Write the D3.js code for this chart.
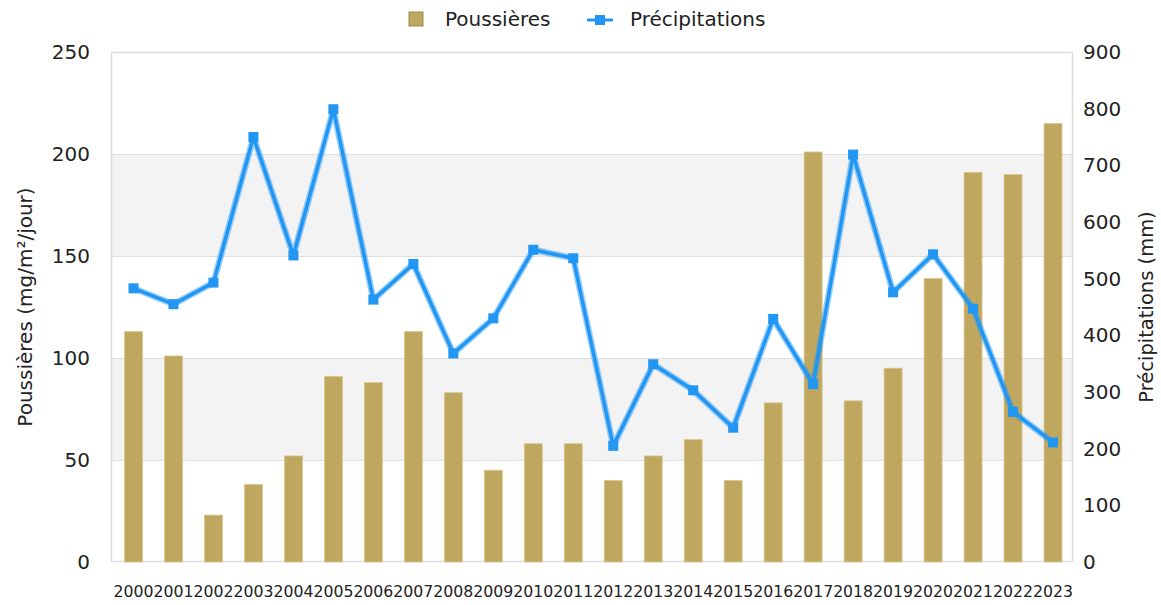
<!DOCTYPE html>
<html>
<head>
<meta charset="utf-8">
<script src="https://cdn.jsdelivr.net/npm/d3@7"></script>
<style>
  body { margin: 0; background: #fff; }
  svg text { font-family: "DejaVu Sans", sans-serif; fill: #222; }
</style>
</head>
<body>
<div id="chart"></div>
<script>
const years = ['2000','2001','2002','2003','2004','2005','2006','2007','2008','2009','2010','2011',
  '2012','2013','2014','2015','2016','2017','2018','2019','2020','2021','2022','2023'];
const dust = [113, 101, 23, 38, 52, 91, 88, 113, 83, 45, 58, 58,
  40, 52, 60, 40, 78, 201, 79, 95, 139, 191, 190, 215];
const rain = [483, 455, 493, 750, 541, 799, 463, 526, 368, 430, 551, 536,
  205, 349, 303, 237, 429, 314, 719, 476, 543, 447, 265, 211];
const leftTicks = [0, 50, 100, 150, 200, 250];
const rightTicks = [0, 100, 200, 300, 400, 500, 600, 700, 800, 900];

let width = 1161, height = 605;
let margin = { top: 52, right: 88, bottom: 43, left: 111 };

let barColor = '#bfa75f';
let lineColor = '#2196f3';

const svg = d3.select('#chart').append('svg')
  .attr('width', width)
  .attr('height', height);

let x = d3.scaleBand()
  .domain(years)
  .range([margin.left + 2.5, width - margin.right])
  .paddingInner(0.55)
  .paddingOuter(0.275);

let y = d3.scaleLinear().domain([0, 250]).range([height - margin.bottom, margin.top]);
let y2 = d3.scaleLinear().domain([0, 900]).range([height - margin.bottom, margin.top]);

// alternating bands
svg.append('g')
  .selectAll('rect')
  .data(d3.pairs(leftTicks))
  .join('rect')
  .attr('x', margin.left)
  .attr('width', width - margin.right - margin.left)
  .attr('y', d => y(d[1]))
  .attr('height', d => y(d[0]) - y(d[1]))
  .attr('fill', (d, i) => i % 2 ? '#f3f3f3' : '#fff');

// grid lines
svg.append('g')
  .selectAll('line')
  .data(leftTicks.slice(1, -1))
  .join('line')
  .attr('x1', margin.left)
  .attr('x2', width - margin.right)
  .attr('y1', d => y(d) + 0.5)
  .attr('y2', d => y(d) + 0.5)
  .attr('stroke', '#e0e0e0');

svg.append('rect')
  .attr('x', margin.left + 0.5)
  .attr('y', margin.top + 0.5)
  .attr('width', width - margin.right - margin.left - 1)
  .attr('height', height - margin.bottom - margin.top - 1)
  .attr('fill', 'none')
  .attr('stroke', '#dcdcdc')
  .attr('stroke-width', 1.5);

// bars
svg.append('g')
  .selectAll('rect')
  .data(years.map((yr, i) => ({ yr, v: dust[i] })))
  .join('rect')
  .attr('x', d => x(d.yr))
  .attr('width', x.bandwidth())
  .attr('y', d => y(d.v))
  .attr('height', d => y(0) - y(d.v))
  .attr('fill', barColor)
  .attr('stroke', '#d9c98f')
  .attr('stroke-width', 0.8);

// line
let pts = years.map((yr, i) => ({ yr, v: rain[i] }));
let line = d3.line()
  .x(d => x(d.yr) + x.bandwidth() / 2)
  .y(d => y2(d.v));

svg.append('path')
  .datum(pts)
  .attr('d', line)
  .attr('fill', 'none')
  .attr('stroke', lineColor)
  .attr('stroke-opacity', 0.45)
  .attr('stroke-linejoin', 'round')
  .attr('stroke-width', 6.5);

svg.append('path')
  .datum(pts)
  .attr('d', line)
  .attr('fill', 'none')
  .attr('stroke', lineColor)
  .attr('stroke-linejoin', 'round')
  .attr('stroke-width', 3.5);

svg.append('g')
  .selectAll('rect')
  .data(pts)
  .join('rect')
  .attr('x', d => x(d.yr) + x.bandwidth() / 2 - 5)
  .attr('y', d => y2(d.v) - 5)
  .attr('width', 10)
  .attr('height', 10)
  .attr('fill', lineColor);

// left axis
let yAxis = g => g
  .attr('transform', `translate(${margin.left},0)`)
  .call(d3.axisLeft(y).tickValues(leftTicks).tickSize(0).tickPadding(21))
  .call(g => g.select('.domain').remove())
  .call(g => g.selectAll('text')
    .attr('font-size', 20)
    .attr('font-family', '"DejaVu Sans", sans-serif')
    .attr('fill', '#222'));
svg.append('g').call(yAxis);

// right axis
let y2Axis = g => g
  .attr('transform', `translate(${width - margin.right},0)`)
  .call(d3.axisRight(y2).tickValues(rightTicks).tickSize(0).tickPadding(10))
  .call(g => g.select('.domain').remove())
  .call(g => g.selectAll('text')
    .attr('font-size', 20)
    .attr('font-family', '"DejaVu Sans", sans-serif')
    .attr('fill', '#222'));
svg.append('g').call(y2Axis);

// x axis labels, squeezed like the original
let xAxis = g => g
  .attr('transform', `translate(0,${height - margin.bottom})`)
  .call(d3.axisBottom(x).tickSize(0).tickPadding(24))
  .call(g => g.select('.domain').remove())
  .call(g => g.selectAll('text')
    .attr('font-size', 16)
    .attr('font-family', '"Liberation Sans", Arial, sans-serif')
    .attr('fill', '#333')
    .attr('textLength', x.step())
    .attr('lengthAdjust', 'spacingAndGlyphs'));
svg.append('g').call(xAxis);

// axis titles
let midY = (margin.top + height - margin.bottom) / 2;
svg.append('text')
  .attr('transform', `translate(32,${midY}) rotate(-90)`)
  .attr('text-anchor', 'middle')
  .attr('font-size', 20)
  .text('Poussières (mg/m²/jour)');

svg.append('text')
  .attr('transform', `translate(1153,${midY}) rotate(-90)`)
  .attr('text-anchor', 'middle')
  .attr('font-size', 19.5)
  .text('Précipitations (mm)');

// legend
let legend = svg.append('g');
legend.append('rect')
  .attr('x', 409).attr('y', 12)
  .attr('width', 14).attr('height', 14)
  .attr('fill', barColor)
  .attr('stroke', '#9c8a4c');
legend.append('text')
  .attr('x', 445).attr('y', 26)
  .attr('font-size', 20)
  .text('Poussières');
legend.append('line')
  .attr('x1', 587).attr('x2', 613)
  .attr('y1', 20).attr('y2', 20)
  .attr('stroke', lineColor)
  .attr('stroke-width', 3);
legend.append('rect')
  .attr('x', 595).attr('y', 15)
  .attr('width', 10).attr('height', 10)
  .attr('fill', lineColor);
legend.append('text')
  .attr('x', 630).attr('y', 26)
  .attr('font-size', 20)
  .text('Précipitations');
</script>
</body>
</html>
